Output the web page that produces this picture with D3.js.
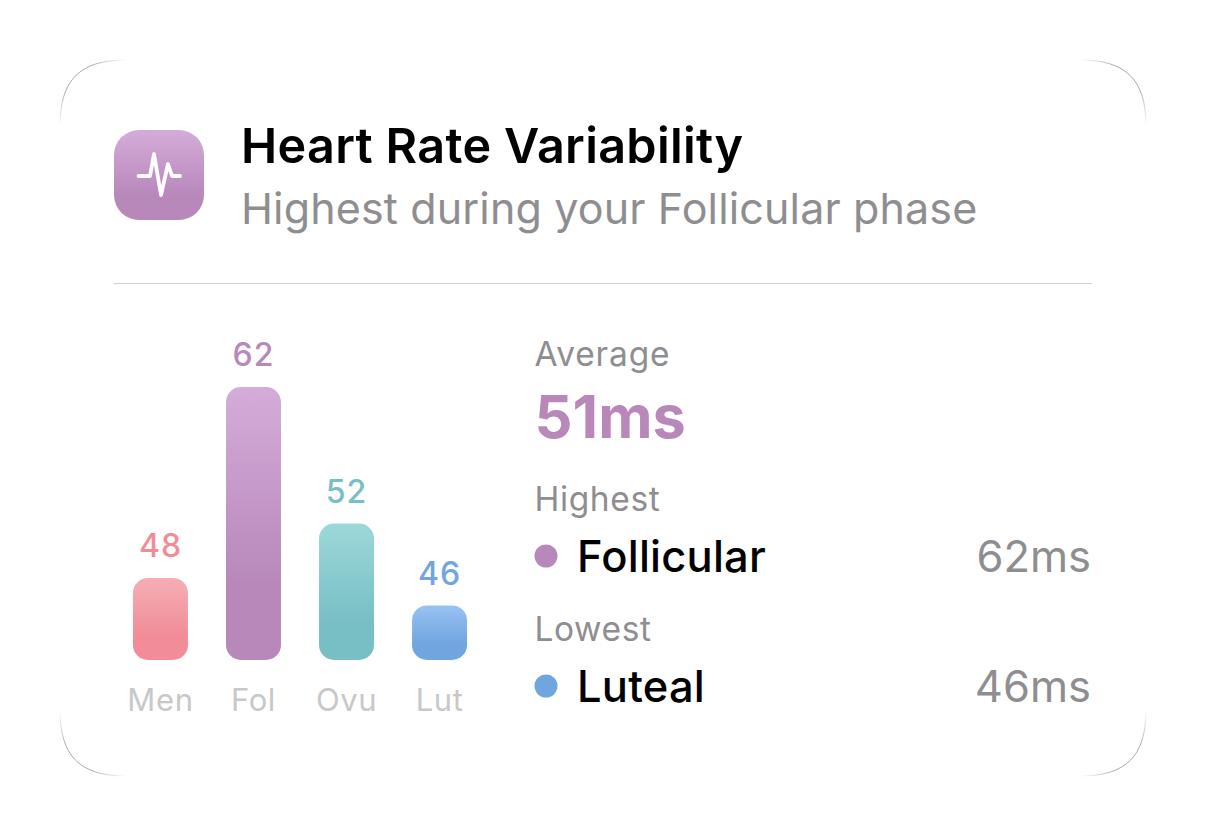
<!DOCTYPE html>
<html>
<head>
<meta charset="utf-8">
<script src="https://cdn.jsdelivr.net/npm/d3@7"></script>
<style>
  html, body { margin: 0; padding: 0; background: #fff; }
  svg { display: block; }
  text { font-family: Inter, "Noto Sans", sans-serif; }
</style>
</head>
<body>
<div id="chart"></div>
<script>
const phases = ['Men', 'Fol', 'Ovu', 'Lut'];
const hrvValues = [48, 62, 52, 46];
const barTopColors = ['#f4aeb4', '#d4acd9', '#9cd8d9', '#98c2f3'];
const barBottomColors = ['#f18c98', '#b888bb', '#78bfc5', '#70a5e0'];
const valueColors = ['#f18c98', '#b888bb', '#78bfc5', '#70a5e0'];

const titleText = 'Heart Rate Variability';
const subtitleText = 'Highest during your Follicular phase';
const averageLabel = 'Average';
const averageValue = '51ms';
const summaryLabels = ['Highest', 'Lowest'];
const summaryNames = ['Follicular', 'Luteal'];
const summaryValues = ['62ms', '46ms'];
const summaryColors = ['#b888bb', '#70a5e0'];

const width = 1206;
const height = 836;
const svg = d3.select('#chart')
  .append('svg')
    .attr('viewBox', [0, 0, width, height])
    .attr('width', width)
    .attr('height', height);

const defs = svg.append('defs');

// vertical fade used by bars and the icon, full colour reached about 70% down
function addGradient(id, top, bottom) {
  const g = defs.append('linearGradient')
    .attr('id', id)
    .attr('x1', 0).attr('y1', 0)
    .attr('x2', 0).attr('y2', 1);
  g.append('stop').attr('offset', '0%').attr('stop-color', top);
  g.append('stop').attr('offset', '72%').attr('stop-color', bottom);
}
phases.forEach((p, i) => addGradient('bar-' + p, barTopColors[i], barBottomColors[i]));
addGradient('icon-fill', '#d4acd9', '#b888bb');

// card corners: only the arcs show, fading out at both ends
const card = { left: 60, top: 60, right: 1146, bottom: 776, r: 66 };
const corners = [
  { from: [card.left, card.top + card.r], ctrl: [card.left, card.top], to: [card.left + card.r, card.top] },
  { from: [card.right - card.r, card.top], ctrl: [card.right, card.top], to: [card.right, card.top + card.r] },
  { from: [card.right, card.bottom - card.r], ctrl: [card.right, card.bottom], to: [card.right - card.r, card.bottom] },
  { from: [card.left + card.r, card.bottom], ctrl: [card.left, card.bottom], to: [card.left, card.bottom - card.r] }
];
corners.forEach((c, i) => {
  const g = defs.append('linearGradient')
    .attr('id', 'corner-' + i)
    .attr('gradientUnits', 'userSpaceOnUse')
    .attr('x1', c.from[0]).attr('y1', c.from[1])
    .attr('x2', c.to[0]).attr('y2', c.to[1]);
  g.append('stop').attr('offset', '0%').attr('stop-color', '#aaa').attr('stop-opacity', 0);
  g.append('stop').attr('offset', '30%').attr('stop-color', '#aaa').attr('stop-opacity', 1);
  g.append('stop').attr('offset', '70%').attr('stop-color', '#aaa').attr('stop-opacity', 1);
  g.append('stop').attr('offset', '100%').attr('stop-color', '#aaa').attr('stop-opacity', 0);
  const p = d3.path();
  p.moveTo(c.from[0], c.from[1]);
  p.bezierCurveTo(
    c.from[0] + (c.ctrl[0] - c.from[0]) * 0.7, c.from[1] + (c.ctrl[1] - c.from[1]) * 0.7,
    c.to[0] + (c.ctrl[0] - c.to[0]) * 0.7, c.to[1] + (c.ctrl[1] - c.to[1]) * 0.7,
    c.to[0], c.to[1]);
  svg.append('path')
    .attr('d', p.toString())
    .attr('fill', 'none')
    .attr('stroke', 'url(#corner-' + i + ')')
    .attr('stroke-width', 1);
});

// header
svg.append('rect')
  .attr('x', 114).attr('y', 130)
  .attr('width', 90).attr('height', 90)
  .attr('rx', 25)
  .attr('fill', 'url(#icon-fill)');
svg.append('path')
  .attr('d', 'M138.5 176H150L154 154L161 195L168 164L172 176H180')
  .attr('fill', 'none')
  .attr('stroke', '#fff')
  .attr('stroke-width', 3.8)
  .attr('stroke-linecap', 'round')
  .attr('stroke-linejoin', 'round');

svg.append('text')
  .attr('x', 241).attr('y', 163)
  .attr('font-size', 48.5).attr('font-weight', 600)
  .attr('letter-spacing', 0.33)
  .attr('fill', '#000')
  .text(titleText);
svg.append('text')
  .attr('x', 241).attr('y', 224)
  .attr('font-size', 43).attr('font-weight', 400)
  .attr('letter-spacing', 0.15)
  .attr('fill', '#8e8e90')
  .text(subtitleText);

svg.append('line')
  .attr('x1', 114).attr('x2', 1092)
  .attr('y1', 283.5).attr('y2', 283.5)
  .attr('stroke', '#d0d0d2').attr('stroke-width', 1);

// bars
const x = d3.scaleBand()
  .domain(phases)
  .range([114, 486])
  .paddingInner(0.409)
  .paddingOuter(0.204);
const y = d3.scaleLinear()
  .domain([42, 62])
  .range([660, 387]);

const bars = svg.selectAll('g.bar')
  .data(phases)
  .join('g')
    .attr('class', 'bar');

bars.append('rect')
  .attr('x', d => x(d))
  .attr('y', (d, i) => y(hrvValues[i]))
  .attr('width', x.bandwidth())
  .attr('height', (d, i) => y.range()[0] - y(hrvValues[i]))
  .attr('rx', 15)
  .attr('fill', d => 'url(#bar-' + d + ')');

bars.append('text')
  .attr('x', d => x(d) + x.bandwidth() / 2)
  .attr('y', (d, i) => y(hrvValues[i]) - 20.7)
  .attr('text-anchor', 'middle')
  .attr('font-size', 32).attr('font-weight', 500)
  .attr('letter-spacing', 1)
  .attr('fill', (d, i) => valueColors[i])
  .text((d, i) => hrvValues[i]);

const xAxis = svg.append('g')
  .attr('transform', 'translate(0,' + y.range()[0] + ')')
  .call(d3.axisBottom(x).tickSize(0).tickPadding(0));
xAxis.select('.domain').remove();
xAxis.selectAll('text')
  .attr('y', 51)
  .attr('dy', 0)
  .attr('font-size', 31)
  .attr('letter-spacing', 0.6)
  .style('font-family', 'Inter, "Noto Sans", sans-serif')
  .attr('fill', '#c8c8c8');

// summary panel
svg.append('text')
  .attr('x', 534.5).attr('y', 366)
  .attr('font-size', 33.5)
  .attr('letter-spacing', 0.85)
  .attr('fill', '#8e8e90')
  .text(averageLabel);
svg.append('text')
  .attr('x', 534.5).attr('y', 438)
  .attr('font-size', 59.5).attr('font-weight', 700)
  .attr('fill', '#b888bb')
  .text(averageValue);

const rowY = d3.scalePoint().domain(summaryLabels).range([570, 700]);
const rows = svg.selectAll('g.summary')
  .data(summaryLabels)
  .join('g')
    .attr('class', 'summary')
    .attr('transform', d => 'translate(0,' + rowY(d) + ')');

rows.append('text')
  .attr('x', 534.5).attr('y', -59.5)
  .attr('font-size', 33.5)
  .attr('letter-spacing', 0.6)
  .attr('fill', '#8e8e90')
  .text(d => d);
rows.append('circle')
  .attr('cx', 546).attr('cy', -14)
  .attr('r', 11.5)
  .attr('fill', (d, i) => summaryColors[i]);
rows.append('text')
  .attr('x', 577).attr('y', 2)
  .attr('font-size', 43.5).attr('font-weight', 500)
  .attr('letter-spacing', 0.2)
  .attr('fill', '#000')
  .text((d, i) => summaryNames[i]);
rows.append('text')
  .attr('x', 1091).attr('y', 2)
  .attr('text-anchor', 'end')
  .attr('font-size', 43.5)
  .attr('fill', '#8e8e90')
  .text((d, i) => summaryValues[i]);
</script>
</body>
</html>
